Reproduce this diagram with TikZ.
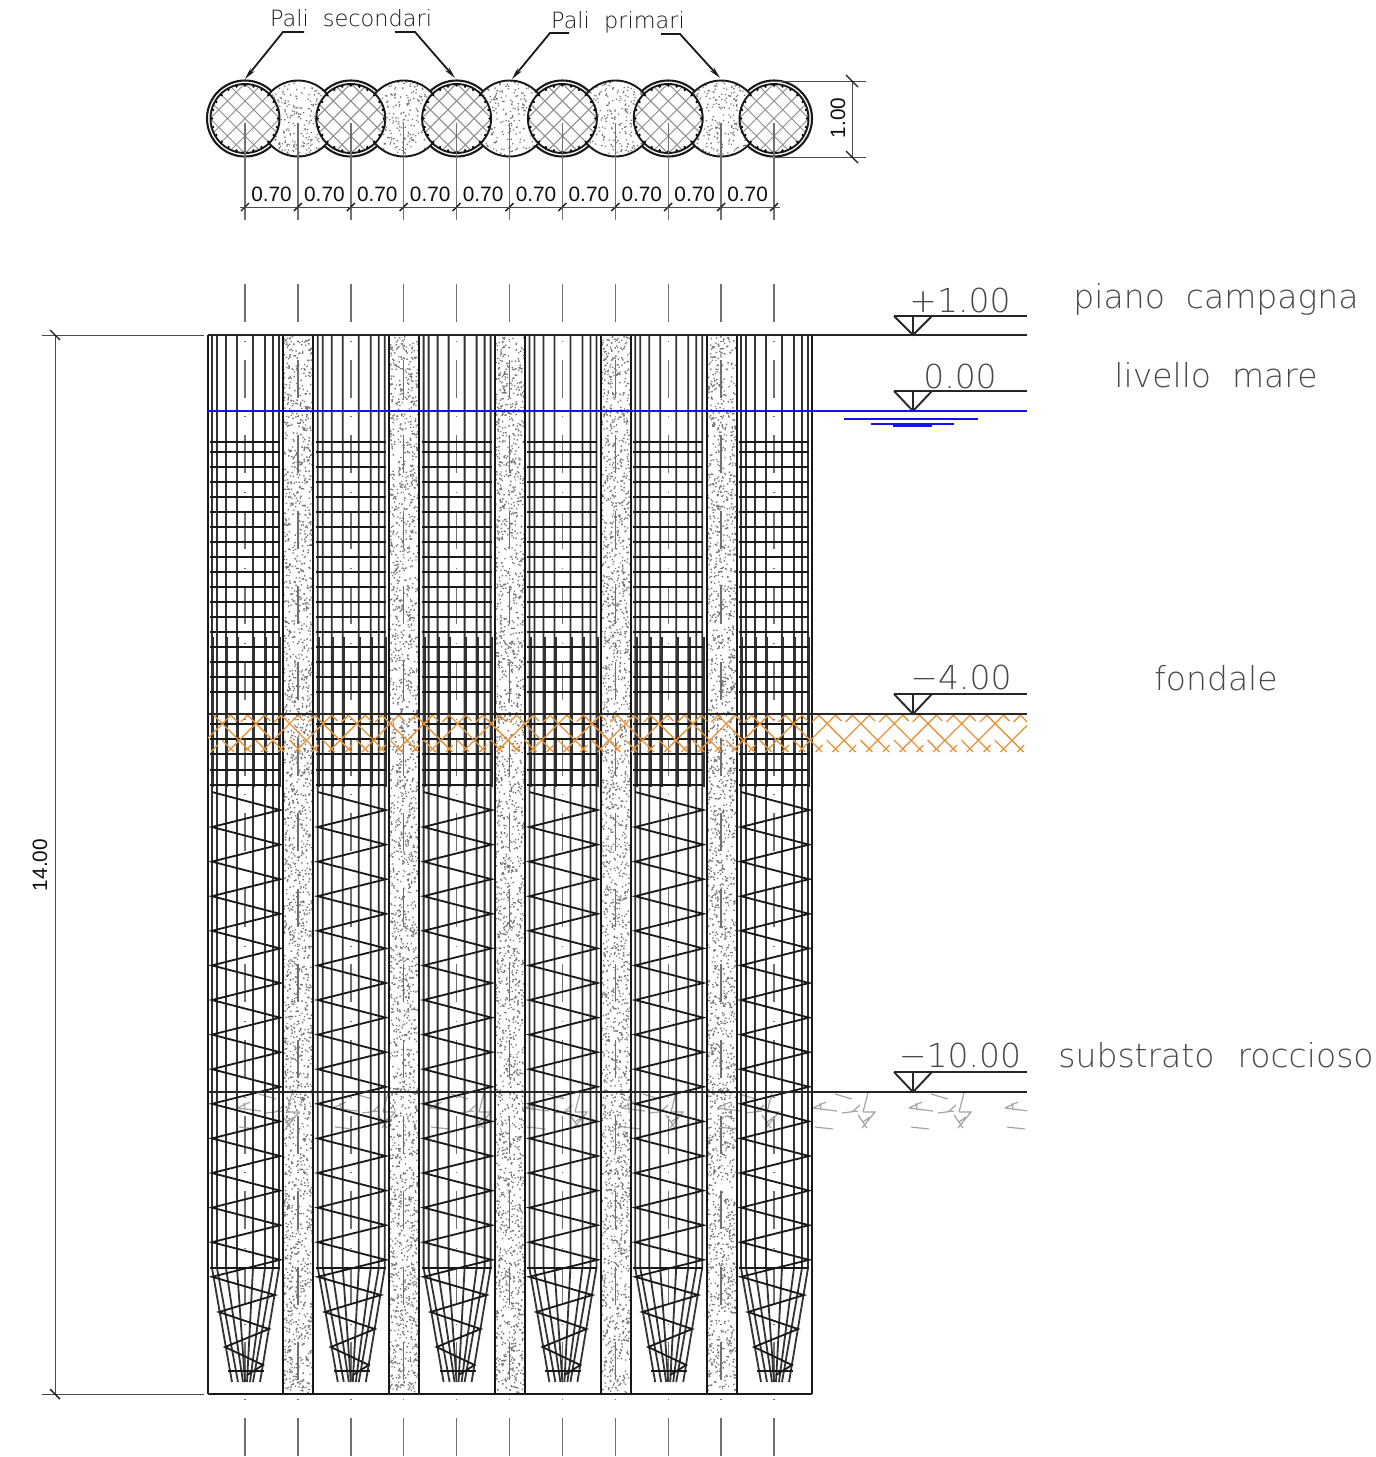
\documentclass[tikz,border=0pt]{standalone}
\usepackage{fontspec}
\setmainfont{Liberation Sans}
\newfontfamily\cad[UprightFont=* ExtraLight]{DejaVu Sans}
\usetikzlibrary{arrows.meta}
\definecolor{axisgray}{HTML}{707070}
\definecolor{txtgray}{HTML}{484848}
\definecolor{orangeh}{HTML}{E8923A}
\definecolor{rockgray}{HTML}{A4A4A4}
\definecolor{stipgray}{HTML}{767676}
\definecolor{seablue}{HTML}{1414E6}
\tikzset{
  bar/.style={line width=0.9pt,black!80},
  hoop/.style={line width=0.8pt,black!90},
  zig/.style={line width=0.9pt,black!90},
  edge/.style={line width=1.25pt,black!90},
  axisline/.style={line width=0.7pt,axisgray},
  levelline/.style={line width=0.95pt,black!85},
  dimline/.style={line width=0.5pt,black!70},
  tick/.style={line width=0.7pt,black!90},
  leader/.style={line width=0.9pt,black!90},
  orangeline/.style={orangeh,line width=0.65pt},
  cadlabel/.style={font=\cad\fontsize{16.5}{18}\selectfont,text=txtgray,anchor=base,inner sep=0pt},
  leadertext/.style={font=\cad\fontsize{11.2}{12}\selectfont,text=black!90,anchor=base,inner sep=0pt},
  dimtext/.style={font=\fontsize{10.4}{12}\selectfont,text=black!95,anchor=base,inner sep=0pt},
}
\begin{document}
\begin{tikzpicture}[x=0.5pt,y=-0.5pt]
\useasboundingbox (0,0) rectangle (1376,1457);
\pgfmathsetseed{42}
% ---------- stipple strips of the secondary piles
\foreach \i in {0,...,4}{
  \pgfmathsetmacro\s{298+105.8*\i}
  \fill[stipgray] \foreach \n in {1,...,2200}{ ({\s-15+29*rnd},{336+1056*rnd}) rectangle ++(1.4,1.4) };
}
% ---------- axes in elevation
\foreach \i in {0,...,10}{
  \pgfmathsetmacro\s{245+52.9*\i}
  \draw[axisline,dash pattern=on 19pt off 9.4pt on 0.4pt off 9.0pt] (\s,284) -- (\s,1456);
}
% ---------- rock hatch
\begin{scope}
\clip (208,1092) rectangle (1027,1135);
\foreach \k in {-6,...,2}{
  \begin{scope}[xshift=\k*48pt]
  \draw[rockgray,line width=0.6pt]
    (813,1108) -- (837,1111) (813,1108) -- (826,1102) (820,1103) -- (821,1110)
    (815,1127) -- (833,1129)
    (835,1094) -- (852,1099)
    (868,1093) -- (863,1112) (842,1113) -- (858,1111) (852,1112) -- (860,1105)
    (863,1112) -- (875,1112) -- (862,1128) (858,1115) -- (867,1128) (863,1122) -- (870,1117);
  \end{scope}
}
\end{scope}
% ---------- primary piles: cages
\foreach \i in {0,...,5}{
  \pgfmathsetmacro\c{245+105.8*\i}
  % longitudinal bars with tapered toe
  \foreach \a/\b in {-33/-13,-28/-7,-19/-2,-8/0,8/2,20/5,28/8,34/15}{
    \draw[bar] (\c+\a,335) -- (\c+\a,1268) -- (\c+\b,1382);
  }
  % lapped bars
  \foreach \a in {-33,-19,-8,8,20,34}{
    \draw[bar] (\c+\a+1.4,637) -- (\c+\a+1.4,787);
  }
  % hoops
  \foreach \y in {442,452,467,482,497,512,527,542,557,572,587,602,617,632,647,662,677,692,724,739,754,770,785,1268}{
    \draw[hoop] (\c-35,\y) -- (\c+35,\y);
  }
  \draw[hoop] (\c-17,1371) -- (\c+19,1371);
  % spiral
  \draw[zig] (\c-33,792)
    \foreach \k [evaluate=\k as \ya using 810+34.6*\k, evaluate=\k as \yb using 827+34.6*\k] in {0,...,13}{ -- (\c+35,\ya) -- (\c-33,\yb) }
    -- (\c+30,1295) -- (\c-26,1312) -- (\c+24,1329) -- (\c-20,1347) -- (\c+18,1365) -- (\c+2,1375);
}
% ---------- wall edges
\foreach \xe in {208,283,313,389,419,495,525,601,631,707,737,812}{
  \draw[edge] (\xe,335) -- (\xe,1394);
}
\draw[edge] (208,335) -- (812,335) (208,1394) -- (812,1394);
% ---------- orange hatch
\begin{scope}
\clip (208,714) rectangle (1027,752);
\foreach \k in {0,2,...,50}{
  \pgfmathsetmacro\xa{196+16.8*\k}
  \pgfmathsetmacro\xb{196+16.8*(\k+1)}
  % long strokes
  \draw[orangeline] (\xa-2,752) -- (\xa+38,712);
  \draw[orangeline] (\xb-2,712) -- (\xb+38,752);
  % short strokes that weave between them
  \draw[orangeline] (\xb-2,752) -- (\xb+5,745) (\xb+28,722) -- (\xb+38,712);
  \draw[orangeline] (\xa-2,712) -- (\xa+7,721) (\xa+26,740) -- (\xa+38,752);
}
\end{scope}
% ---------- levels
\foreach \nm/\ya/\yb in {p/316/335,m/391/411,f/694/714,s/1072/1092}{
  \coordinate (apex\nm) at (913,\yb);
  \coordinate (tl\nm) at (894,\ya);
  \coordinate (tr\nm) at (1027,\ya);
  \coordinate (tm\nm) at (913,\ya);
  \coordinate (tk\nm) at (932,\ya);
  \draw[levelline] (tl\nm) -- (tr\nm);
  \draw[levelline] (tl\nm) -- (apex\nm) -- (tk\nm);
  \draw[levelline] (tm\nm) -- (apex\nm);
}
\draw[levelline] (208,335) -- (1027,335);
\draw[levelline] (208,714) -- (1027,714);
\draw[levelline] (208,1092) -- (1027,1092);
% water
\draw[seablue,line width=0.8pt] (208,411) -- (1027,411);
\draw[seablue,line width=0.65pt] (844,419) -- (978,419) (871,424) -- (954,424);
\draw[seablue,line width=1.2pt] (893,425.5) -- (932,425.5);
% level labels
\node[cadlabel] (l1) at (960,312) {+1.00};
\node[cadlabel] (l2) at (960,388) {0.00};
\node[cadlabel] (l3) at (961,689) {−4.00};
\node[cadlabel] (l4) at (960,1067) {−10.00};
\node[cadlabel] (n1) at (1216,308) {piano\ \ campagna};
\node[cadlabel] (n2) at (1216,387) {livello\ \ mare};
\node[cadlabel] (n3) at (1216,690) {fondale};
\node[cadlabel] (n4) at (1216,1067) {substrato\ \ \hspace{1pt}roccioso};
% ---------- plan: outer rings of the primary piles
\foreach \i in {0,...,5}{
  \pgfmathsetmacro\c{245+105.8*\i}
  \draw[line width=1.05pt,black!90] (\c,118.5) circle[radius=38];
}
% ---------- plan: secondary piles
\foreach \i in {0,...,4}{
  \pgfmathsetmacro\s{298+105.8*\i}
  \fill[white] (\s,118.5) circle[radius=38];
  \begin{scope}
    \clip (\s,118.5) circle[radius=38];
    \fill[stipgray] \foreach \n in {1,...,320}{ ({\s-38+76*rnd},{80+77*rnd}) rectangle ++(1.3,1.3) };
  \end{scope}
  \draw[line width=0.95pt,black!90] (\s,118.5) circle[radius=38];
}
% ---------- plan: cores of the primary piles
\foreach \i in {0,...,5}{
  \pgfmathsetmacro\c{245+105.8*\i}
  \fill[white] (\c,118.5) circle[radius=34.5];
  \begin{scope}
    \clip (\c,118.5) circle[radius=34];
    \foreach \k in {-4,...,4}{
      \draw[line width=0.5pt,black!45] (\c-45+17.5*\k,118.5+45) -- (\c+45+17.5*\k,118.5-45);
      \draw[line width=0.5pt,black!45] (\c-45+17.5*\k,118.5-45) -- (\c+45+17.5*\k,118.5+45);
    }
  \end{scope}
  \draw[line width=0.95pt,black!90] (\c,118.5) circle[radius=34.5];
  \foreach \t in {0,15,...,345}{
    \fill[black] (\c,118.5) ++(\t:33) circle[radius=1.3];
  }
}
% ---------- plan axes and dimension chain
\foreach \i in {0,...,10}{
  \pgfmathsetmacro\s{245+52.9*\i}
  \draw[axisline] (\s,123) -- (\s,220);
  \draw[tick] (\s-4,211) -- (\s+4,203);
}
\draw[dimline] (240,207) -- (780,207);
\foreach \i in {0,...,9}{
  \pgfmathsetmacro\s{271.5+52.9*\i}
  \node[dimtext] (d\i) at (\s,201) {0.70};
}
% height of the plan
\coordinate (ha) at (852,81);
\coordinate (hb) at (852,157);
\draw[dimline] (ha) -- (hb);
\draw[dimline] (775,81) -- (866,81);
\draw[dimline] (775,157) -- (866,157);
\draw[tick] (846,75) -- (858,87);
\draw[tick] (846,151) -- (858,163);
\node[dimtext,anchor=center,rotate=90] (dh) at (838,118) {1.00};
% total height
\coordinate (va) at (55,335);
\coordinate (vb) at (55,1394);
\draw[dimline] (va) -- (vb);
\draw[dimline] (42,335) -- (204,335);
\draw[dimline] (42,1394) -- (204,1394);
\draw[tick] (50,330) -- (60,340);
\draw[tick] (50,1389) -- (60,1399);
\node[dimtext,anchor=center,rotate=90] (dv) at (40,865) {14.00};
% ---------- leaders
\node[leadertext] (sec) at (351,26) {Pali\ \ secondari};
\node[leadertext] (pri) at (618,28) {Pali\ \ primari};
\coordinate (s1) at (304,32); \coordinate (s1k) at (283,32); \coordinate (s1t) at (245,79);
\coordinate (s2) at (395,32); \coordinate (s2k) at (415,32); \coordinate (s2t) at (455,78);
\coordinate (p1) at (569,33); \coordinate (p1k) at (550,33); \coordinate (p1t) at (512,79);
\coordinate (p2) at (661,34); \coordinate (p2k) at (680,34); \coordinate (p2t) at (720,78);
\foreach \a/\b/\t in {s1/s1k/s1t,s2/s2k/s2t,p1/p1k/p1t,p2/p2k/p2t}{
  \draw[leader,-{Stealth[length=6pt,width=2.6pt]}] (\a) -- (\b) -- (\t);
}
\end{tikzpicture}
\end{document}
